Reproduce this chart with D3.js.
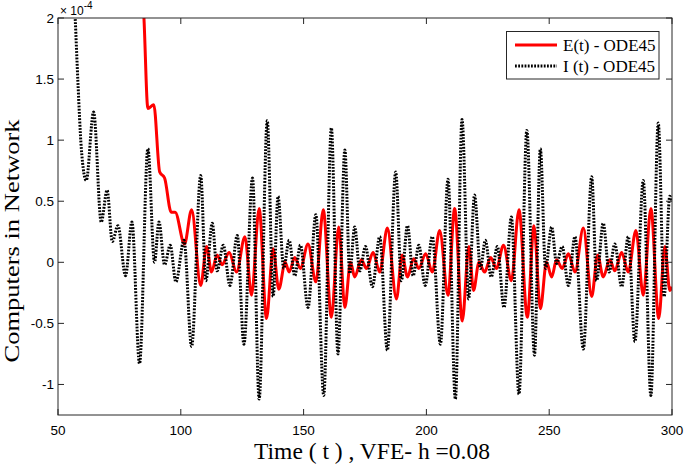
<!DOCTYPE html>
<html><head><meta charset="utf-8">
<script src="https://cdn.jsdelivr.net/npm/d3@7"></script>
<style>
html,body{margin:0;padding:0;background:#fff;}
svg{display:block;}
</style>
</head><body>
<svg id="chart" width="685" height="467"></svg>
<script>
// Values are in units of 1e-4 (axis multiplier shown as "× 10^-4")
const tE = [70, 78, 83, 85, 86.6, 89, 91.4, 93.4, 96.1, 97.7, 101.5, 104.4, 108.1, 110.5, 112.5, 114.8, 116.8, 119.7, 122.7, 126.1, 128.8, 131.9, 134.9, 137.6, 139.9, 142.5, 144.1, 146.4, 148.7, 151.8, 155, 158, 161.3, 164.3, 166.8, 169.1, 170.8, 173.5, 175.6, 178.3, 181, 184.1, 187.8, 190.1, 192.3, 194.8, 196.9, 199.7, 202.4, 205.4, 208.8, 211.5, 214.6, 217.3, 219.2, 221.4, 223.7, 226.2, 228.5, 231.4, 234.6, 237.7, 241.1, 243.8, 246.4, 248.9, 251, 253, 255.3, 257.8, 260.5, 263.9, 267.3, 269.7, 272, 274.7, 276.7, 279.5, 282.2, 285.3, 288.3, 291.4, 294.6, 297.1, 299.1, 300];
const valE = [9, 4.6, 2.75, 2.0, 1.26, 1.29, 0.74, 0.69, 0.41, 0.41, 0.15, 0.43, -0.19, 0.13, -0.08, 0.06, -0.02, 0.08, -0.08, 0.21, -0.27, 0.44, -0.46, 0.11, -0.22, 0.00, -0.08, 0.04, -0.05, 0.15, -0.16, 0.43, -0.45, 0.29, -0.37, 0.00, -0.12, 0.02, -0.05, 0.08, -0.08, 0.28, -0.30, 0.06, -0.12, 0.03, -0.05, 0.07, -0.08, 0.26, -0.27, 0.44, -0.48, 0.13, -0.23, 0.00, -0.08, 0.04, -0.05, 0.14, -0.15, 0.43, -0.45, 0.30, -0.38, 0.00, -0.12, 0.02, -0.05, 0.07, -0.08, 0.28, -0.28, 0.06, -0.12, 0.02, -0.07, 0.08, -0.08, 0.26, -0.27, 0.44, -0.46, 0.13, -0.23, -0.20];

const tI = [50, 54, 57, 58.1, 59.5, 61.5, 64.5, 67.6, 70, 72.1, 74.4, 77.5, 80.1, 83.2, 86.6, 89.3, 91.1, 93.4, 95.7, 98, 101.3, 104.4, 108.1, 110.2, 112.8, 114.8, 117.3, 120, 123, 125.7, 129.2, 131.9, 135.2, 137.6, 139.6, 141.9, 144.1, 146.4, 148.7, 151.8, 155, 158.2, 161.3, 164, 166.8, 168.8, 170.8, 172.9, 175.2, 178, 181, 184.1, 187.5, 189.8, 192.3, 194.6, 196.9, 199.5, 202.4, 205.7, 208.8, 211.8, 214.5, 217.2, 219.6, 222, 224, 226.4, 228.9, 231.6, 234.6, 237.7, 240.9, 244, 246.4, 248.5, 251, 253, 255.3, 257.8, 260.5, 263.9, 267.3, 269.3, 272, 274.4, 276.7, 279.5, 282.2, 284.9, 288.3, 291.4, 294.4, 296.8, 299.1, 300];
const valI = [5, 3.2, 2.0, 1.48, 0.93, 0.67, 1.23, 0.33, 0.59, 0.17, 0.30, -0.11, 0.33, -0.83, 0.93, 0.00, 0.33, -0.02, 0.14, -0.16, 0.18, -0.69, 0.71, -0.15, 0.32, -0.07, 0.14, -0.19, 0.22, -0.67, 0.69, -1.12, 1.16, -0.28, 0.54, -0.05, 0.18, -0.11, 0.14, -0.37, 0.39, -1.09, 1.10, -0.75, 0.92, -0.09, 0.29, -0.07, 0.13, -0.20, 0.21, -0.72, 0.74, -0.15, 0.30, -0.11, 0.14, -0.19, 0.21, -0.67, 0.68, -1.12, 1.17, -0.30, 0.55, -0.05, 0.18, -0.12, 0.13, -0.37, 0.37, -1.08, 1.08, -0.76, 0.93, -0.05, 0.29, -0.01, 0.13, -0.19, 0.21, -0.71, 0.70, -0.15, 0.32, -0.08, 0.15, -0.20, 0.21, -0.65, 0.67, -1.09, 1.14, -0.28, 0.54, 0.50];

const xTicks = [50, 100, 150, 200, 250, 300];
const yTicks = [-1, -0.5, 0, 0.5, 1, 1.5, 2];
const yTickLabels = ["-1", "-0.5", "0", "0.5", "1", "1.5", "2"];
const seriesNames = ["E(t) - ODE45", "I (t) - ODE45"];
const xTitle = "Time ( t ) , VFE- h =0.08";
const yTitle = "Computers in Network";

const svg = d3.select("#chart");
const L = 58, R = 672, T = 18, B = 415;
const x = d3.scaleLinear().domain([50, 300]).range([L, R]);
const y = d3.scaleLinear().domain([-1.25, 2]).range([B, T]);
const axisCol = "#262626";

svg.append("defs").append("clipPath").attr("id", "clip")
  .append("rect").attr("x", L).attr("y", T).attr("width", R - L).attr("height", B - T);

const line = d3.line().x(d => x(d[0])).y(d => y(d[1])).curve(d3.curveMonotoneX);
const dE = tE.map((t, i) => [t, valE[i]]);
const dI = tI.map((t, i) => [t, valI[i]]);

const g = svg.append("g").attr("clip-path", "url(#clip)");
g.append("path").datum(dE).attr("d", line)
  .attr("fill", "none").attr("stroke", "#ff0000").attr("stroke-width", 3).attr("stroke-linejoin", "round");
g.append("path").datum(dI).attr("d", line)
  .attr("fill", "none").attr("stroke", "#000").attr("stroke-width", 3)
  .attr("stroke-dasharray", "1.8,1.4");

// axes box
svg.append("rect").attr("x", L).attr("y", T).attr("width", R - L).attr("height", B - T)
  .attr("fill", "none").attr("stroke", axisCol).attr("stroke-width", 1);

const tickLen = 6;
const ax = svg.append("g").attr("stroke", axisCol).attr("stroke-width", 1);
xTicks.forEach(v => {
  ax.append("line").attr("x1", x(v)).attr("x2", x(v)).attr("y1", B).attr("y2", B - tickLen);
  ax.append("line").attr("x1", x(v)).attr("x2", x(v)).attr("y1", T).attr("y2", T + tickLen);
});
yTicks.forEach(v => {
  ax.append("line").attr("x1", L).attr("x2", L + tickLen).attr("y1", y(v)).attr("y2", y(v));
  ax.append("line").attr("x1", R).attr("x2", R - tickLen).attr("y1", y(v)).attr("y2", y(v));
});

const tickFont = "'Liberation Sans', Arial, sans-serif";
svg.append("g").selectAll("text").data(xTicks).join("text")
  .attr("x", d => x(d)).attr("y", 434.5)
  .attr("text-anchor", "middle").attr("font-family", tickFont).attr("font-size", 13.5)
  .attr("fill", "#000").text(d => d);
svg.append("g").selectAll("text").data(yTicks).join("text")
  .attr("x", L - 4).attr("y", d => y(d)).attr("dy", "0.35em")
  .attr("text-anchor", "end").attr("font-family", tickFont).attr("font-size", 13.5)
  .attr("fill", "#000").text((d, i) => yTickLabels[i]);

// multiplier
const mult = svg.append("text").attr("x", L + 2).attr("y", 15)
  .attr("font-family", tickFont).attr("font-size", 12).attr("fill", "#000");
mult.append("tspan").text("\u00d7 10");
mult.append("tspan").attr("font-size", 10).attr("dy", -6).text("-4");

const serif = "'Liberation Serif', 'Times New Roman', serif";
svg.append("text").attr("x", 372).attr("y", 458.5)
  .attr("text-anchor", "middle").attr("font-family", serif).attr("font-size", 23.5)
  .attr("fill", "#000").text(xTitle);
svg.append("text").attr("transform", `translate(19,241) rotate(-90)`)
  .attr("text-anchor", "middle").attr("font-family", serif).attr("font-size", 21)
  .attr("textLength", 243).attr("lengthAdjust", "spacingAndGlyphs")
  .attr("fill", "#000").text(yTitle);

// legend
const lg = svg.append("g");
lg.append("rect").attr("x", 506.5).attr("y", 31.5).attr("width", 152.5).attr("height", 47.5)
  .attr("fill", "#fff").attr("stroke", axisCol).attr("stroke-width", 1);
const styles = [{stroke: "#ff0000", dash: null}, {stroke: "#000", dash: "1.8,1.4"}];
seriesNames.forEach((n, i) => {
  const cy = 45 + i * 21;
  const l = lg.append("line").attr("x1", 515).attr("x2", 557).attr("y1", cy).attr("y2", cy)
    .attr("stroke", styles[i].stroke).attr("stroke-width", 3);
  if (styles[i].dash) l.attr("stroke-dasharray", styles[i].dash);
  lg.append("text").attr("x", 563).attr("y", cy + 6)
    .attr("font-family", serif).attr("font-size", 17).attr("fill", "#000").text(n);
});
</script>
</body></html>
